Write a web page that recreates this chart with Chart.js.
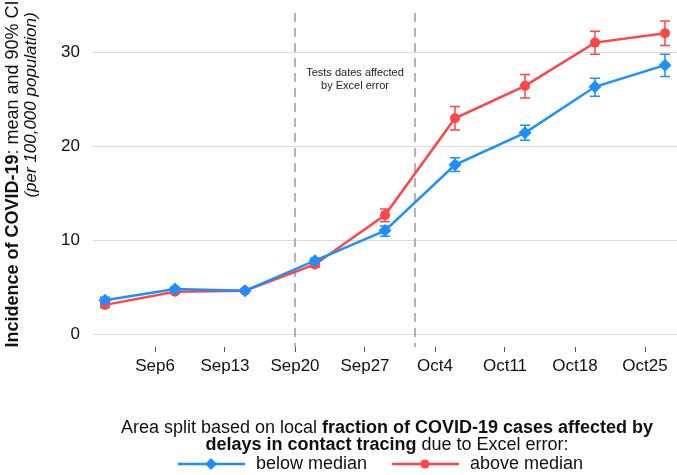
<!DOCTYPE html>
<html>
<head>
<meta charset="utf-8">
<script src="https://cdn.jsdelivr.net/npm/chart.js@4/dist/chart.umd.min.js"></script>
<style>
  html, body { margin: 0; padding: 0; background: #fff; }
  #wrap { width: 677px; height: 475px; }
</style>
</head>
<body>
<div id="wrap"><canvas id="chart" width="677" height="475"></canvas></div>
<script>
// days counted from 1 Sep
const weekDays   = [0, 7, 14, 21, 28, 35, 42, 49, 56];
const belowMean  = [3.6, 4.8, 4.6, 7.8, 11.0, 18.0, 21.4, 26.3, 28.6];
const belowLo    = [3.3, 4.6, 4.45, 7.5, 10.4, 17.3, 20.6, 25.3, 27.4];
const belowHi    = [3.9, 5.0, 4.75, 8.1, 11.5, 18.75, 22.2, 27.2, 29.75];
const aboveMean  = [3.1, 4.5, 4.6, 7.4, 12.65, 22.95, 26.4, 31.0, 32.0];
const aboveLo    = [2.8, 4.3, 4.45, 7.1, 11.95, 21.7, 25.1, 29.75, 30.7];
const aboveHi    = [3.4, 4.7, 4.75, 7.7, 13.3, 24.2, 27.6, 32.2, 33.3];
const tickDays   = [5, 12, 19, 26, 33, 40, 47, 54];
const tickLabels = ['Sep6', 'Sep13', 'Sep20', 'Sep27', 'Oct4', 'Oct11', 'Oct18', 'Oct25'];
const yTicks     = [0, 10, 20, 30];
const excelDays  = [19, 31];
const seriesNames = ['below median', 'above median'];

const BLUE = '#1E8FFF';
const RED  = '#FF4646';
const FONT = '"Liberation Sans", Arial, Helvetica, sans-serif';

const toPoints = (ys) => weekDays.map((d, i) => ({ x: d, y: ys[i] }));

// draw a line of text made of runs with different fonts, centred on cx
function drawRuns(ctx, runs, cx, cy) {
  let total = 0;
  runs.forEach(r => { ctx.font = r.font; r.w = ctx.measureText(r.text).width; total += r.w; });
  let x = cx - total / 2;
  ctx.textAlign = 'left';
  ctx.textBaseline = 'middle';
  runs.forEach(r => { ctx.font = r.font; ctx.fillText(r.text, x, cy); x += r.w; });
}

const errorBars = {
  id: 'errorBars',
  beforeDatasetsDraw(chart) {
    const { ctx, chartArea, scales: { x, y } } = chart;
    ctx.save();
    // dashed markers for the Excel error window
    ctx.strokeStyle = '#9a9a9a';
    ctx.lineWidth = 1.5;
    ctx.setLineDash([9, 6]);
    excelDays.forEach(d => {
      const px = x.getPixelForValue(d);
      ctx.beginPath();
      ctx.moveTo(px, chartArea.top + 8);
      ctx.lineTo(px, chartArea.bottom);
      ctx.stroke();
    });
    ctx.setLineDash([]);
    ctx.fillStyle = '#222';
    const mid = x.getPixelForValue((excelDays[0] + excelDays[1]) / 2);
    drawRuns(ctx, [{ text: 'Tests dates affected', font: '11px ' + FONT }], mid, 73);
    drawRuns(ctx, [{ text: 'by Excel error', font: '11px ' + FONT }], mid, 86);

    const sets = [[aboveLo, aboveHi, RED], [belowLo, belowHi, BLUE]];
    sets.forEach(([lo, hi, col]) => {
      ctx.strokeStyle = col;
      ctx.lineWidth = 1.5;
      weekDays.forEach((d, i) => {
        const px = x.getPixelForValue(d);
        const y1 = y.getPixelForValue(lo[i]);
        const y2 = y.getPixelForValue(hi[i]);
        ctx.beginPath();
        ctx.moveTo(px, y1); ctx.lineTo(px, y2);
        ctx.moveTo(px - 5, y1); ctx.lineTo(px + 5, y1);
        ctx.moveTo(px - 5, y2); ctx.lineTo(px + 5, y2);
        ctx.stroke();
      });
    });
    ctx.restore();
  },
  afterDraw(chart) {
    const { ctx } = chart;
    ctx.save();
    ctx.fillStyle = '#111';
    // y axis title
    ctx.translate(13, 174);
    ctx.rotate(-Math.PI / 2);
    drawRuns(ctx, [
      { text: 'Incidence of COVID-19', font: 'bold 18px ' + FONT },
      { text: ': mean and 90% CI', font: '18px ' + FONT },
    ], 0, 0);
    ctx.setTransform(1, 0, 0, 1, 0, 0);
    ctx.translate(31, 105);
    ctx.rotate(-Math.PI / 2);
    drawRuns(ctx, [{ text: '(per 100,000 population)', font: 'italic 17px ' + FONT }], 0, 0);
    ctx.setTransform(1, 0, 0, 1, 0, 0);

    // legend caption
    drawRuns(ctx, [
      { text: 'Area split based on local ', font: '18px ' + FONT },
      { text: 'fraction of COVID-19 cases affected by', font: 'bold 18px ' + FONT },
    ], 387, 428);
    drawRuns(ctx, [
      { text: 'delays in contact tracing', font: 'bold 18px ' + FONT },
      { text: ' due to Excel error:', font: '18px ' + FONT },
    ], 387, 445);

    // legend keys
    const keys = [[178, BLUE, 'rectRot', 6, seriesNames[0]], [392, RED, 'circle', 4.5, seriesNames[1]]];
    keys.forEach(([kx, col, style, r, label]) => {
      ctx.strokeStyle = col;
      ctx.lineWidth = 2.5;
      ctx.beginPath();
      ctx.moveTo(kx, 464); ctx.lineTo(kx + 67, 464);
      ctx.stroke();
      ctx.fillStyle = col;
      Chart.helpers.drawPoint(ctx, { pointStyle: style, radius: r, borderWidth: 0 }, kx + 33, 464);
      ctx.fillStyle = '#111';
      ctx.font = '18px ' + FONT;
      ctx.textAlign = 'left';
      ctx.textBaseline = 'middle';
      ctx.fillText(label, kx + 78, 464);
    });
    ctx.restore();
  }
};

new Chart(document.getElementById('chart'), {
  type: 'line',
  data: {
    datasets: [
      {
        label: seriesNames[0],
        data: toPoints(belowMean),
        borderColor: BLUE,
        backgroundColor: BLUE,
        borderWidth: 2.5,
        pointStyle: 'rectRot',
        pointRadius: 6.5,
        pointBorderWidth: 0,
        tension: 0,
      },
      {
        label: seriesNames[1],
        data: toPoints(aboveMean),
        borderColor: RED,
        backgroundColor: RED,
        borderWidth: 2.5,
        pointStyle: 'circle',
        pointRadius: 5,
        pointBorderWidth: 0,
        tension: 0,
      },
    ],
  },
  options: {
    responsive: false,
    animation: false,
    layout: { autoPadding: false, padding: { top: 5, right: 0, bottom: 0, left: 0 } },
    plugins: {
      legend: { display: false },
      tooltip: { enabled: false },
    },
    scales: {
      x: {
        type: 'linear',
        min: -1.2,
        max: 57.2,
        afterBuildTicks: s => { s.ticks = tickDays.map(v => ({ value: v })); },
        afterFit: s => { s.height = 128; s.paddingLeft = 0; s.paddingRight = 0; },
        ticks: {
          callback: (v, i) => tickLabels[i],
          autoSkip: false,
          maxRotation: 0,
          padding: 4,
          color: '#111',
          font: { family: FONT, size: 17 },
        },
        grid: { drawOnChartArea: false, drawTicks: true, tickLength: 5, tickColor: '#555', tickWidth: 1 },
        border: { display: false },
      },
      y: {
        min: -1.38,
        max: 35,
        afterBuildTicks: s => { s.ticks = yTicks.map(v => ({ value: v })); },
        afterFit: s => { s.width = 93; s.paddingTop = 0; s.paddingBottom = 0; },
        ticks: {
          padding: 13,
          color: '#111',
          font: { family: FONT, size: 17 },
        },
        grid: { color: '#dcdcdc', lineWidth: 1, drawTicks: false },
        border: { display: false },
      },
    },
  },
  plugins: [errorBars],
});
</script>
</body>
</html>
